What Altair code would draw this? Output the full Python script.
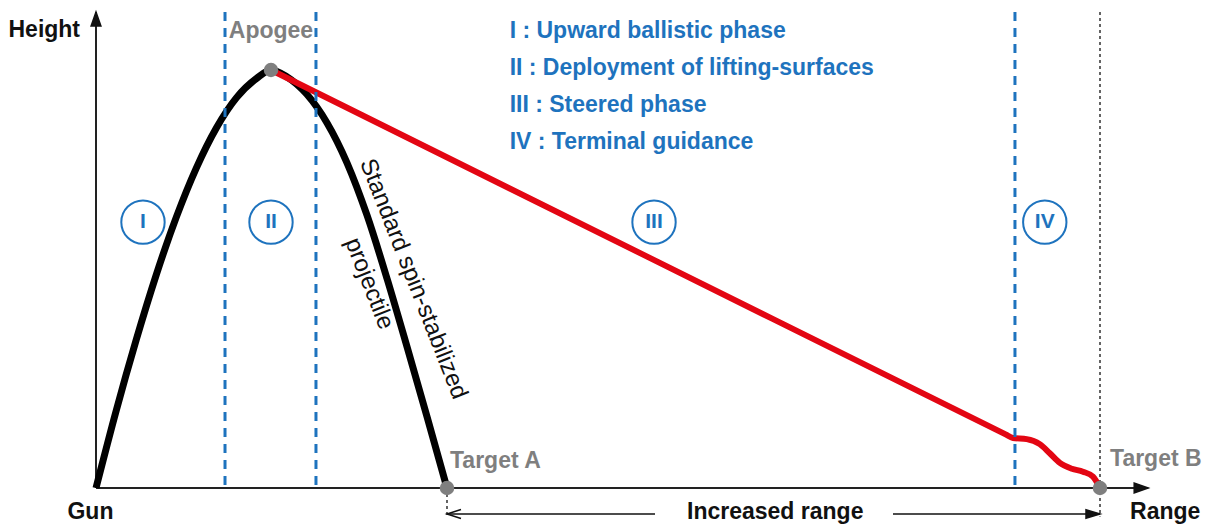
import altair as alt
import pandas as pd

# ---- data (range: % of Target B distance, height: % of apogee height) ----
ballistic_range = [0, 2, 4, 6, 8, 10, 12, 14, 16, 17.43, 19, 21, 23, 25, 27, 29, 31, 33, 34.96]
ballistic_height = [0, 18.4, 35.4, 51, 64.8, 76.6, 86.2, 93.4, 98, 100,
                    98.4, 94.2, 87.4, 77.8, 65.2, 50.0, 33.6, 16.8, 0]

guided_range = [17.43, 55, 90.6, 91.33, 92.7, 94.0, 95.0, 96.0, 97.2, 98.3, 99.3, 100]
guided_height = [100, 55.24, 12.83, 11.96, 11.7, 10.5, 8.3, 6.0, 4.6, 3.9, 2.7, 0]

phase_bounds = [12.85, 21.91, 91.53]
phase_names = ["I", "II", "III", "IV"]
phase_centers = [4.68, 17.43, 55.58, 94.5]
legend_lines = ["I : Upward ballistic phase", "II : Deployment of lifting-surfaces",
                "III : Steered phase", "IV : Terminal guidance"]
legend_heights = [109.3, 100.5, 91.6, 82.8]

key_names = ["Apogee", "Target A", "Target B"]
key_range = [17.43, 34.96, 100]
key_height = [100, 0, 0]

AXIS_X_END = 104.8
AXIS_Y_END = 113.9
BELOW = (488 - 514) / 4.18
TEXT_BASE = (488 - 519) / 4.18

XS = alt.Scale(domain=[(8 - 96) / 10.04, (1206 - 96) / 10.04], nice=False, zero=False)
YS = alt.Scale(domain=[(488 - 524) / 4.18, (488 - 8) / 4.18], nice=False, zero=False)

BLUE = "#1e73be"
GRAY = "#7f7f7f"
FONT = "Liberation Sans"
FS = 23


def X(f="x"):
    return alt.X(f"{f}:Q", scale=XS, axis=None)


def Y(f="y"):
    return alt.Y(f"{f}:Q", scale=YS, axis=None)


# axes lines
axes_df = pd.DataFrame({"x": [0, 0], "x2": [AXIS_X_END, 0], "y": [0, 0], "y2": [0, AXIS_Y_END]})
axes = alt.Chart(axes_df).mark_rule(color="#222222", strokeWidth=2).encode(
    x=X(), x2="x2:Q", y=Y(), y2="y2:Q")

arrow_df = pd.DataFrame({
    "x": [AXIS_X_END, 0, 100, key_range[1]],
    "y": [0, AXIS_Y_END, BELOW, BELOW],
    "shape": ["M0,0L-2,-0.7L-2,0.7Z", "M0,0L-0.7,2L0.7,2Z", "M0,0L-2,-0.6L-2,0.6Z", "M2,-0.65L0,0L2,0.65"],
    "fill": ["#111111", "#111111", "#111111", "transparent"],
})
arrows = alt.Chart(arrow_df).mark_point(size=196, opacity=1, strokeWidth=1.5, color="#111111").encode(
    x=X(), y=Y(), shape=alt.Shape("shape:N", scale=None), fill=alt.Fill("fill:N", scale=None))

# increased-range arrow shafts
inc_df = pd.DataFrame({"x": [key_range[1], 79.38], "x2": [55.68, 100], "y": [BELOW, BELOW]})
inc = alt.Chart(inc_df).mark_rule(color="#111111", strokeWidth=1.6).encode(x=X(), x2="x2:Q", y=Y())

# dotted target markers
dot_df = pd.DataFrame({"x": [key_range[1], 100], "y": [0, AXIS_Y_END], "y2": [BELOW - 0.6, BELOW - 0.6]})
dots = alt.Chart(dot_df).mark_rule(color="#111111", strokeWidth=1.3, strokeDash=[3, 3]).encode(
    x=X(), y=Y(), y2="y2:Q")

# trajectories
ball = alt.Chart(pd.DataFrame({"x": ballistic_range, "y": ballistic_height})).mark_line(
    color="#000000", strokeWidth=7, interpolate="monotone").encode(x=X(), y=Y())
guided = alt.Chart(pd.DataFrame({"x": guided_range, "y": guided_height})).mark_line(
    color="#e30613", strokeWidth=6, interpolate="monotone").encode(x=X(), y=Y())

# phase boundaries
phase_df = pd.DataFrame({"x": phase_bounds, "y": [AXIS_Y_END] * 3, "y2": [0] * 3})
phases = alt.Chart(phase_df).mark_rule(color=BLUE, strokeWidth=3, strokeDash=[9, 7]).encode(
    x=X(), y=Y(), y2="y2:Q")

# key points
key_df = pd.DataFrame({"x": key_range, "y": key_height, "name": key_names})
keys = alt.Chart(key_df).mark_point(filled=True, size=210, color=GRAY, opacity=1).encode(x=X(), y=Y())

# phase circles and numerals
circ_df = pd.DataFrame({"x": phase_centers, "y": [63.6] * 4, "t": phase_names})
circles = alt.Chart(circ_df).mark_point(shape="circle", filled=False, size=1880, color=BLUE,
                                        strokeWidth=2, opacity=1).encode(x=X(), y=Y())
numerals = alt.Chart(circ_df).mark_text(font=FONT, fontSize=21, fontWeight="bold", color=BLUE,
                                        baseline="middle", align="center").encode(x=X(), y=Y(), text="t:N")

# legend text
leg_df = pd.DataFrame({"x": [41.2] * 4, "y": legend_heights, "t": legend_lines})
legend = alt.Chart(leg_df).mark_text(font=FONT, fontSize=FS, fontWeight="bold", color=BLUE,
                                     baseline="middle", align="left").encode(x=X(), y=Y(), text="t:N")

# gray labels
glab_df = pd.DataFrame({"x": [17.43], "y": [109.3], "t": ["Apogee"]})
glab = alt.Chart(glab_df).mark_text(font=FONT, fontSize=FS, fontWeight="bold", color=GRAY,
                                    baseline="middle", align="center").encode(x=X(), y=Y(), text="t:N")
glab2_df = pd.DataFrame({"x": [35.26, 101.0], "y": [6.46, 6.94], "t": ["Target A", "Target B"]})
glab2 = alt.Chart(glab2_df).mark_text(font=FONT, fontSize=FS, fontWeight="bold", color=GRAY,
                                      baseline="middle", align="left").encode(x=X(), y=Y(), text="t:N")

# black labels
blab_df = pd.DataFrame({"x": [-0.55, 106.5, 67.65], "y": [TEXT_BASE] * 3,
                        "t": ["Gun", "Range", "Increased range"]})
blab = alt.Chart(blab_df).mark_text(font=FONT, fontSize=FS, fontWeight="bold", color="#111111",
                                    baseline="alphabetic", align="center").encode(x=X(), y=Y(), text="t:N")
hlab = alt.Chart(pd.DataFrame({"x": [-1.59], "y": [109.6], "t": ["Height"]})).mark_text(
    font=FONT, fontSize=FS, fontWeight="bold", color="#111111", baseline="middle", align="right"
).encode(x=X(), y=Y(), text="t:N")

# rotated curve annotation
rot_df = pd.DataFrame({"x": [31.6, 27.2], "y": [50.0, 48.9],
                       "t": ["Standard spin-stabilized", "projectile"]})
rot = alt.Chart(rot_df).mark_text(font=FONT, fontSize=24, color="#111111", angle=68.5,
                                  baseline="middle", align="center").encode(x=X(), y=Y(), text="t:N")

chart = alt.layer(axes, inc, dots, ball, guided, phases, arrows, keys, circles, numerals,
                  legend, glab, glab2, blab, hlab, rot).properties(
    width=1198, height=516, padding=0, autosize=alt.AutoSizeParams(type="none")
).configure_view(stroke=None)

chart.save("out.html", embed_options={"renderer": "svg", "actions": False})
